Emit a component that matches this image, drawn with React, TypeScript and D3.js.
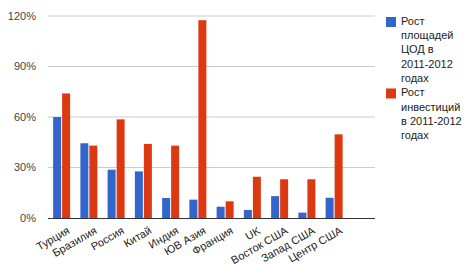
import React from "react";
import * as d3 from "d3";

const categories = ["Турция", "Бразилия", "Россия", "Китай", "Индия", "ЮВ Азия", "Франция", "UK", "Восток США", "Запад США", "Центр США"];
const areaGrowth = [60, 44.4, 28.7, 27.7, 11.9, 10.9, 6.7, 4.8, 13, 3.2, 12];
const investGrowth = [74, 43, 58.6, 44, 43, 117.5, 9.9, 24.5, 23, 23, 49.7];
const yTicks = [0, 30, 60, 90, 120];
const legendItems = [
  { color: "#3366cc", lines: ["Рост", "площадей", "ЦОД в", "2011-2012", "годах"] },
  { color: "#dc3912", lines: ["Рост", "инвестиций", "в 2011-2012", "годах"] },
];

const W = 466, H = 264;
const left = 48, right = 375, top = 16, bottom = 218;
const slot = (right - left) / 12;

export default function App() {
  const x = d3.scaleBand<string>().domain(categories).range([left, left + slot * categories.length]).paddingInner(0).paddingOuter(0);
  const y = d3.scaleLinear().domain([0, 120]).range([bottom, top]);
  const barW = 8;
  const gap = 1;
  const font = "'Liberation Sans', Arial, sans-serif";
  return (
    <svg width={W} height={H} style={{ position: "absolute", left: 0, top: 0 }} fontFamily={font}>
      <rect width={W} height={H} fill="#fff" />
      {yTicks.map((t) => (
        <g key={t}>
          {t !== 0 && <line x1={left} x2={right} y1={y(t)} y2={y(t)} stroke="#cccccc" strokeWidth={1} />}
          <text x={36} y={y(t)} dy="0.35em" textAnchor="end" fontSize={11} fill="#444">{t}%</text>
        </g>
      ))}
      {categories.map((c, i) => {
        const cx = (x(c) as number) + x.bandwidth() / 2;
        return (
          <g key={c}>
            <rect x={cx - gap / 2 - barW} y={y(areaGrowth[i])} width={barW} height={bottom - y(areaGrowth[i])} fill="#3366cc" />
            <rect x={cx + gap / 2} y={y(investGrowth[i])} width={barW} height={bottom - y(investGrowth[i])} fill="#dc3912" />
            <text transform={`translate(${cx + 5},${bottom + 8}) rotate(-30)`} textAnchor="end" dy="0.71em" fontSize={11} fill="#222">{c}</text>
          </g>
        );
      })}
      <line x1={left} x2={right} y1={bottom + 0.5} y2={bottom + 0.5} stroke="#333" strokeWidth={1} />
      {legendItems.map((item, k) => {
        const y0 = k === 0 ? 17 : 88.5;
        return (
          <g key={k}>
            <rect x={386} y={y0} width={10} height={10} fill={item.color} />
            {item.lines.map((ln, j) => (
              <text key={j} x={401} y={y0 + 4 + j * 14.3} dy="0.35em" fontSize={11} fill="#222">{ln}</text>
            ))}
          </g>
        );
      })}
    </svg>
  );
}
